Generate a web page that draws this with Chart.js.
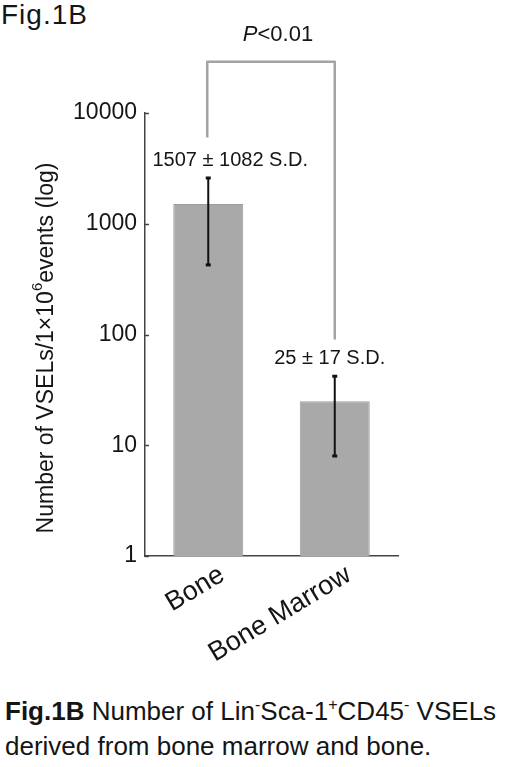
<!DOCTYPE html>
<html>
<head>
<meta charset="utf-8">
<script src="https://cdn.jsdelivr.net/npm/chart.js@4.4.1/dist/chart.umd.min.js"></script>
<style>
  html, body { margin: 0; padding: 0; background: #fff; }
  body { width: 520px; height: 767px; position: relative; overflow: hidden;
         font-family: "Liberation Sans", Arial, sans-serif; color: #151515; }
  #wrap { position: absolute; left: 0; top: 0; width: 520px; height: 680px; }
  #figTitle { position: absolute; left: 1px; top: 0; font-size: 28px; line-height: 30px; letter-spacing: 1px; }
  #caption { position: absolute; left: 5px; top: 694px; width: 515px; font-size: 26px; line-height: 35px; white-space: nowrap; }
  #caption sup { font-size: 16px; vertical-align: 10px; line-height: 0; }
</style>
</head>
<body>
<div id="figTitle">Fig.1B</div>
<div id="wrap"><canvas id="chart"></canvas></div>
<div id="caption"><b>Fig.1B</b> Number of Lin<sup>-</sup>Sca-1<sup>+</sup>CD45<sup>-</sup> VSELs<br>derived from bone marrow and bone.</div>
<script>
// -----------------------------
// Data
// -----------------------------
const categories = ["Bone", "Bone Marrow"];
const means = [1507, 25];
const sds = [1082, 17];
const meanLabels = ["1507 \u00b1 1082 S.D.", "25 \u00b1 17 S.D."];
const yTicks = [1, 10, 100, 1000, 10000];
const pLabel = "P<0.01";
// bracket: leg ends (per bar) and top, in data units
const bracketLegs = [6000, 90];
const bracketTop = 29000;

const FONT = '"Liberation Sans", Arial, sans-serif';
const INK = "#151515";

// error bars, value labels, bracket, y title, inward ticks
const overlay = {
  id: "overlay",
  afterDatasetsDraw(chart) {
    const { ctx, chartArea } = chart;
    const yS = chart.scales.y;
    const bars = chart.getDatasetMeta(0).data;
    ctx.save();

    // inward ticks on y axis
    ctx.strokeStyle = "#444";
    ctx.lineWidth = 1.5;
    yTicks.forEach((v) => {
      const py = Math.round(yS.getPixelForValue(v)) + 0.5;
      ctx.beginPath();
      ctx.moveTo(chartArea.left, py);
      ctx.lineTo(chartArea.left + 4, py);
      ctx.stroke();
    });

    // error bars
    ctx.strokeStyle = "#111";
    ctx.fillStyle = "#111";
    ctx.lineWidth = 2;
    bars.forEach((bar, i) => {
      const top = yS.getPixelForValue(means[i] + sds[i]);
      const bot = yS.getPixelForValue(means[i] - sds[i]);
      ctx.beginPath();
      ctx.moveTo(bar.x, top);
      ctx.lineTo(bar.x, bot);
      ctx.stroke();
      ctx.fillRect(bar.x - 2.5, top - 1.5, 5, 3);
      ctx.fillRect(bar.x - 2.5, bot - 1.5, 5, 3);
    });

    // mean ± SD labels
    const dx = [22, -5];
    ctx.font = "20px " + FONT;
    ctx.fillStyle = INK;
    ctx.textAlign = "center";
    ctx.textBaseline = "middle";
    bars.forEach((bar, i) => {
      const top = yS.getPixelForValue(means[i] + sds[i]);
      ctx.fillText(meanLabels[i], bar.x + dx[i], top - 18);
    });

    // significance bracket
    const xL = bars[0].x - 1, xR = bars[1].x;
    const yT = yS.getPixelForValue(bracketTop);
    ctx.strokeStyle = "#a3a3a3";
    ctx.lineWidth = 2.5;
    ctx.lineJoin = "round";
    ctx.beginPath();
    ctx.moveTo(xL, yS.getPixelForValue(bracketLegs[0]));
    ctx.lineTo(xL, yT);
    ctx.lineTo(xR, yT);
    ctx.lineTo(xR, yS.getPixelForValue(bracketLegs[1]));
    ctx.stroke();

    // P<0.01 (italic P)
    const rest = pLabel.slice(1);
    ctx.font = "italic 22px " + FONT;
    const wP = ctx.measureText("P").width;
    ctx.font = "22px " + FONT;
    const wR = ctx.measureText(rest).width;
    const cx = (xL + xR) / 2 + 7;
    const startX = cx - (wP + wR) / 2;
    ctx.textAlign = "left";
    ctx.fillStyle = INK;
    ctx.font = "italic 22px " + FONT;
    ctx.fillText("P", startX, yT - 27);
    ctx.font = "22px " + FONT;
    ctx.fillText(rest, startX + wP, yT - 27);

    // y axis title with superscript
    const parts = [
      ["Number of VSELs/1\u00d710", 23, 0],
      ["6", 15, -9],
      ["events (log)", 23, 0],
    ];
    let total = 0;
    parts.forEach((p) => {
      ctx.font = p[1] + "px " + FONT;
      total += ctx.measureText(p[0]).width;
    });
    ctx.translate(47, 348);
    ctx.rotate(-Math.PI / 2);
    let px = -total / 2;
    parts.forEach((p) => {
      ctx.font = p[1] + "px " + FONT;
      ctx.fillText(p[0], px, p[2]);
      px += ctx.measureText(p[0]).width;
    });

    ctx.restore();
  },
};

const ctx = document.getElementById("chart").getContext("2d");
new Chart(ctx, {
  type: "bar",
  data: {
    labels: categories,
    datasets: [
      {
        data: means,
        backgroundColor: "#a9a9a9",
        borderColor: "#9d9d9d",
        borderWidth: 1,
        barPercentage: 0.553,
        categoryPercentage: 1.0,
      },
    ],
  },
  options: {
    responsive: true,
    maintainAspectRatio: false,
    animation: false,
    layout: { padding: { top: 113, right: 122, bottom: 0, left: 0 } },
    plugins: { legend: { display: false }, tooltip: { enabled: false } },
    scales: {
      x: {
        grid: { display: true, drawOnChartArea: false, drawTicks: false },
        border: { display: true, color: "#444", width: 1.5 },
        ticks: {
          color: INK,
          font: { family: FONT, size: 27 },
          maxRotation: 31,
          minRotation: 31,
          padding: 3,
          labelOffset: 14,
        },
        afterFit: (scale) => { scale.height = 124; },
      },
      y: {
        type: "logarithmic",
        min: 1,
        max: 10000,
        grid: { display: true, drawOnChartArea: false, drawTicks: false },
        border: { display: true, color: "#444", width: 1.5 },
        ticks: {
          autoSkip: false,
          color: INK,
          padding: 8,
          font: { family: FONT, size: 23 },
          callback: (v) => (yTicks.includes(v) ? String(v) : null),
        },
        afterFit: (scale) => { scale.width = 145; },
      },
    },
  },
  plugins: [overlay],
});
</script>
</body>
</html>
